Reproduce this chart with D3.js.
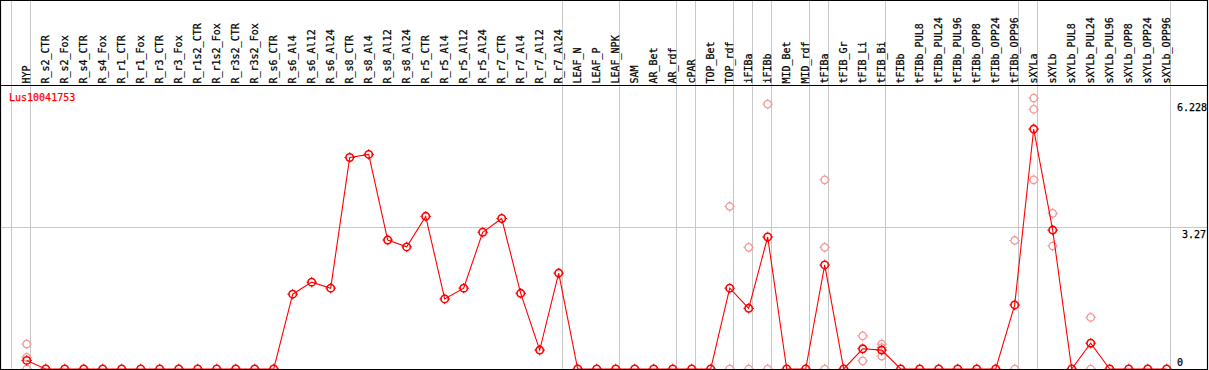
<!DOCTYPE html>
<html>
<head>
<meta charset="utf-8">
<script src="https://cdn.jsdelivr.net/npm/d3@7"></script>
<style>
  body { margin: 0; background: #fff; }
  svg { display: block; }
  text { font-family: "DejaVu Sans Mono", monospace; font-size: 10px; stroke-width: 0.25px; }
</style>
</head>
<body>
<script>
'use strict';

// sample names across the top
const categories = ["HYP", "R_s2_CTR", "R_s2_Fox", "R_s4_CTR", "R_s4_Fox", "R_r1_CTR", "R_r1_Fox",
  "R_r3_CTR", "R_r3_Fox", "R_r1s2_CTR", "R_r1s2_Fox", "R_r3s2_CTR", "R_r3s2_Fox", "R_s6_CTR",
  "R_s6_Al4", "R_s6_Al12", "R_s6_Al24", "R_s8_CTR", "R_s8_Al4", "R_s8_Al12", "R_s8_Al24",
  "R_r5_CTR", "R_r5_Al4", "R_r5_Al12", "R_r5_Al24", "R_r7_CTR", "R_r7_Al4", "R_r7_Al12", "R_r7_Al24",
  "LEAF_N", "LEAF_P", "LEAF_NPK", "SAM", "AR_Bet", "AR_rdf", "cPAR", "TOP_Bet", "TOP_rdf",
  "iFIBa", "iFIBb", "MID_Bet", "MID_rdf", "tFIBa", "tFIB_Gr", "tFIB_Li", "tFIB_Bi", "tFIBb",
  "tFIBb_PUL8", "tFIBb_PUL24", "tFIBb_PUL96", "tFIBb_OPP8", "tFIBb_OPP24", "tFIBb_OPP96",
  "sXYLa", "sXYLb", "sXYLb_PUL8", "sXYLb_PUL24", "sXYLb_PUL96", "sXYLb_OPP8", "sXYLb_OPP24", "sXYLb_OPP96"];

// mean expression (red line)
const means = [0.2, 0, 0, 0, 0, 0, 0,
  0, 0, 0, 0, 0, 0, 0,
  1.74, 2.02, 1.88, 4.92, 4.99, 3.00, 2.84,
  3.55, 1.63, 1.88, 3.18, 3.50, 1.76, 0.44, 2.23,
  0, 0, 0, 0, 0, 0, 0, 0, 1.88,
  1.41, 3.07, 0, 0, 2.42, 0, 0.47, 0.44, 0,
  0, 0, 0, 0, 0, 1.49,
  5.58, 3.23, 0, 0.60, 0, 0, 0, 0];

// individual replicates (pale circles)
const repNames = ["HYP", "TOP_rdf", "iFIBa", "iFIBb", "tFIBa", "tFIB_Li", "tFIB_Bi",
  "tFIBb_OPP96", "sXYLa", "sXYLb", "sXYLb_PUL24"];
const repValues = [[0.58, 0.27, 0], [3.78, 0], [2.83, 0], [6.16, 0], [4.40, 2.83, 0], [0.77, 0.19],
  [0.58, 0.50, 0.30], [2.99, 0], [6.30, 6.04, 4.40], [3.62, 2.86], [1.20, 0]];

// samples followed by a group separator
const groupEnds = ["HYP", "R_r7_Al24", "LEAF_NPK", "AR_rdf", "cPAR", "TOP_rdf", "iFIBa", "iFIBb",
  "MID_rdf", "tFIBa", "tFIB_Bi", "tFIBb_OPP96", "sXYLa", "sXYLb_OPP96"];

const yTicks = [0, 3.27, 6.228];
const geneName = "Lus10041753";

(function() {

  let width = 1209;
  let height = 370;
  let headerY = 85;
  let svgContainer = "";

  svgContainer = d3.select('body')
    .append('svg')
    .attr('width', width)
    .attr('height', height);

  let xScale = d3.scalePoint()
    .domain(categories)
    .range([26.7, 1166.7]);

  let yScale = d3.scaleLinear()
    .domain([0, 6.228])
    .range([369, 101.2]);

  drawGrid(xScale, yScale);
  drawLabels(xScale, yScale);
  plotData(xScale, yScale);
  drawFrame();

  function crisp(v) {
    return Math.round(v) - 0.5;
  }

  function drawGrid(x, y) {
    let lines = [x(categories[0]) - 15].concat(groupEnds.map(c => x(c) + 4));
    svgContainer.selectAll('.vgrid')
      .data(lines)
      .enter()
      .append('line')
      .attr('x1', d => crisp(d))
      .attr('x2', d => crisp(d))
      .attr('y1', 0)
      .attr('y2', height)
      .attr('stroke', '#c8c8c8')
      .attr('stroke-width', 1);

    svgContainer.append('line')
      .attr('x1', 0)
      .attr('x2', 1207)
      .attr('y1', crisp(y(yTicks[1])))
      .attr('y2', crisp(y(yTicks[1])))
      .attr('stroke', '#c8c8c8')
      .attr('stroke-width', 1);
  }

  function drawLabels(x, y) {
    svgContainer.selectAll('.cat')
      .data(categories)
      .enter()
      .append('text')
      .attr('transform', d => 'translate(' + (x(d) + 2.8) + ',' + 83.5 + ')rotate(-90)')
      .attr('fill', '#000')
      .attr('stroke', '#000')
      .text(d => d);

    svgContainer.append('text')
      .attr('x', 9)
      .attr('y', 101)
      .attr('fill', '#ff0000')
      .attr('stroke', '#ff0000')
      .text(geneName);

    // value labels on the right
    svgContainer.selectAll('.ytick')
      .data(yTicks)
      .enter()
      .append('text')
      .attr('x', (d, i) => i == 1 ? 1206 : 1177)
      .attr('y', (d, i) => i == 0 ? y(d) - 3.5 : y(d) + 9.5)
      .attr('text-anchor', (d, i) => i == 1 ? 'end' : 'start')
      .attr('fill', '#000')
      .attr('stroke', '#000')
      .text(d => d);
  }

  function marker(sel, color, sw) {
    sel.append('circle')
      .attr('r', 3.7)
      .attr('fill', 'none')
      .attr('stroke', color)
      .attr('stroke-width', sw);
    [[0, -1], [0, 1], [-1, 0], [1, 0]].forEach(function(p) {
      sel.append('line')
        .attr('x1', p[0] * 3.7)
        .attr('y1', p[1] * 3.7)
        .attr('x2', p[0] * 5.3)
        .attr('y2', p[1] * 5.3)
        .attr('stroke', color)
        .attr('stroke-width', 1);
    });
  }

  function plotData(x, y) {
    let reps = [];
    repNames.forEach(function(name, i) {
      repValues[i].forEach(v => reps.push({ name: name, value: v }));
    });

    let repG = svgContainer.selectAll('.rep')
      .data(reps)
      .enter()
      .append('g')
      .attr('transform', d => 'translate(' + x(d.name) + ',' + y(d.value) + ')');
    marker(repG, '#f29a9a', 1.3);

    let points = categories.map((c, i) => ({ name: c, value: means[i] }));

    let line = d3.line()
      .x(d => x(d.name))
      .y(d => y(d.value));

    svgContainer.append('path')
      .datum(points)
      .attr('d', line)
      .attr('fill', 'none')
      .attr('stroke', '#ff0000')
      .attr('stroke-width', 1.1);

    let dotG = svgContainer.selectAll('.dot')
      .data(points)
      .enter()
      .append('g')
      .attr('transform', d => 'translate(' + x(d.name) + ',' + y(d.value) + ')');
    marker(dotG, '#ff0000', 1.6);
  }

  function drawFrame() {
    let frame = [
      [0, 0.5, 1208, 0.5],
      [0, headerY + 0.5, 1208, headerY + 0.5],
      [0, 369.5, 1208, 369.5],
      [0.5, 0, 0.5, height],
      [1207.5, 0, 1207.5, height]
    ];
    svgContainer.selectAll('.frame')
      .data(frame)
      .enter()
      .append('line')
      .attr('x1', d => d[0])
      .attr('y1', d => d[1])
      .attr('x2', d => d[2])
      .attr('y2', d => d[3])
      .attr('stroke', '#000')
      .attr('stroke-width', 1.2);
  }

})();
</script>
</body>
</html>
